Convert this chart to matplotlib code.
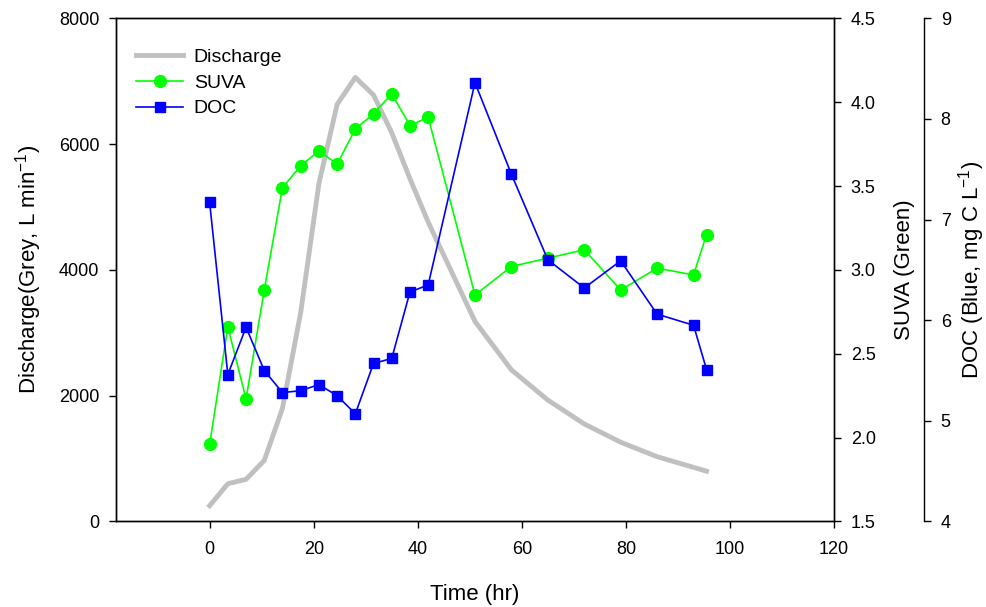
import numpy as np
import matplotlib.pyplot as plt

plt.rcParams['font.family'] = ['Liberation Sans', 'DejaVu Sans']

# sampling times (hr)
time = [0, 3.5, 7, 10.5, 14, 17.5, 21, 24.5, 28, 31.5, 35, 38.5, 42,
        51, 58, 65, 72, 79, 86, 93, 95.5]

# discharge, L/min
discharge = [250, 600, 670, 970, 1800, 3320, 5370, 6630, 7060, 6780, 6180,
             5450, 4760, 3180, 2410, 1930, 1550, 1260, 1030, 860, 800]

# SUVA
suva = [1.96, 2.66, 2.23, 2.88, 3.49, 3.62, 3.71, 3.63, 3.84, 3.93, 4.05,
        3.86, 3.91, 2.85, 3.02, 3.07, 3.12, 2.88, 3.01, 2.97, 3.21]

# DOC, mg C/L
doc = [7.17, 5.46, 5.93, 5.50, 5.28, 5.30, 5.36, 5.25, 5.07, 5.57, 5.62,
       6.28, 6.35, 8.36, 7.45, 6.60, 6.32, 6.59, 6.06, 5.95, 5.51]

fig = plt.figure(figsize=(9.87, 6.07), dpi=100)
ax = fig.add_axes([0.1175, 0.1409, 0.7275, 0.829])
ax2 = ax.twinx()
ax3 = ax.twinx()

l1, = ax.plot(time, discharge, color='#c0c0c0', lw=3.5, label='Discharge')
l2, = ax2.plot(time, suva, color='#00ff00', lw=1.2, marker='o', ms=8.5,
               label='SUVA')
l3, = ax3.plot(time, doc, color='#0000ff', lw=1.2, marker='s', ms=7.5,
               label='DOC')

ax.set_xlim(-18, 120)
ax.set_ylim(0, 8000)
ax2.set_ylim(1.5, 4.5)
ax3.set_ylim(4, 9)
ax.set_xticks(np.arange(0, 121, 20))
ax.set_yticks(np.arange(0, 8001, 2000))
ax2.set_yticks(np.arange(1.5, 4.51, 0.5))
ax3.set_yticks(np.arange(4, 10, 1))

ax3.spines['right'].set_position(('axes', 1.1253))
for s in ['top', 'left', 'bottom']:
    ax3.spines[s].set_visible(False)

for a in (ax, ax2, ax3):
    a.tick_params(direction='out', length=5, width=1, labelsize=13, pad=7)
    for s in a.spines.values():
        s.set_linewidth(1)
ax.tick_params(axis='x', pad=9)

ax.set_xlabel('Time (hr)', fontsize=16, labelpad=19)
ax.set_ylabel('Discharge(Grey, L min$^{\\mathregular{-1}}$)', fontsize=16,
              labelpad=11)
ax2.set_ylabel('SUVA (Green)', fontsize=16, labelpad=13)
ax3.set_ylabel('DOC (Blue, mg C L$^{\\mathregular{-1}}$)', fontsize=16,
               labelpad=4)

ax.legend(handles=[l1, l2, l3], loc='upper left', frameon=False,
          fontsize=14, handlelength=2.4, handletextpad=0.55, labelspacing=0.42,
          bbox_to_anchor=(0.0, 0.981), borderaxespad=0.65)

fig.savefig('out.png', dpi=100)
